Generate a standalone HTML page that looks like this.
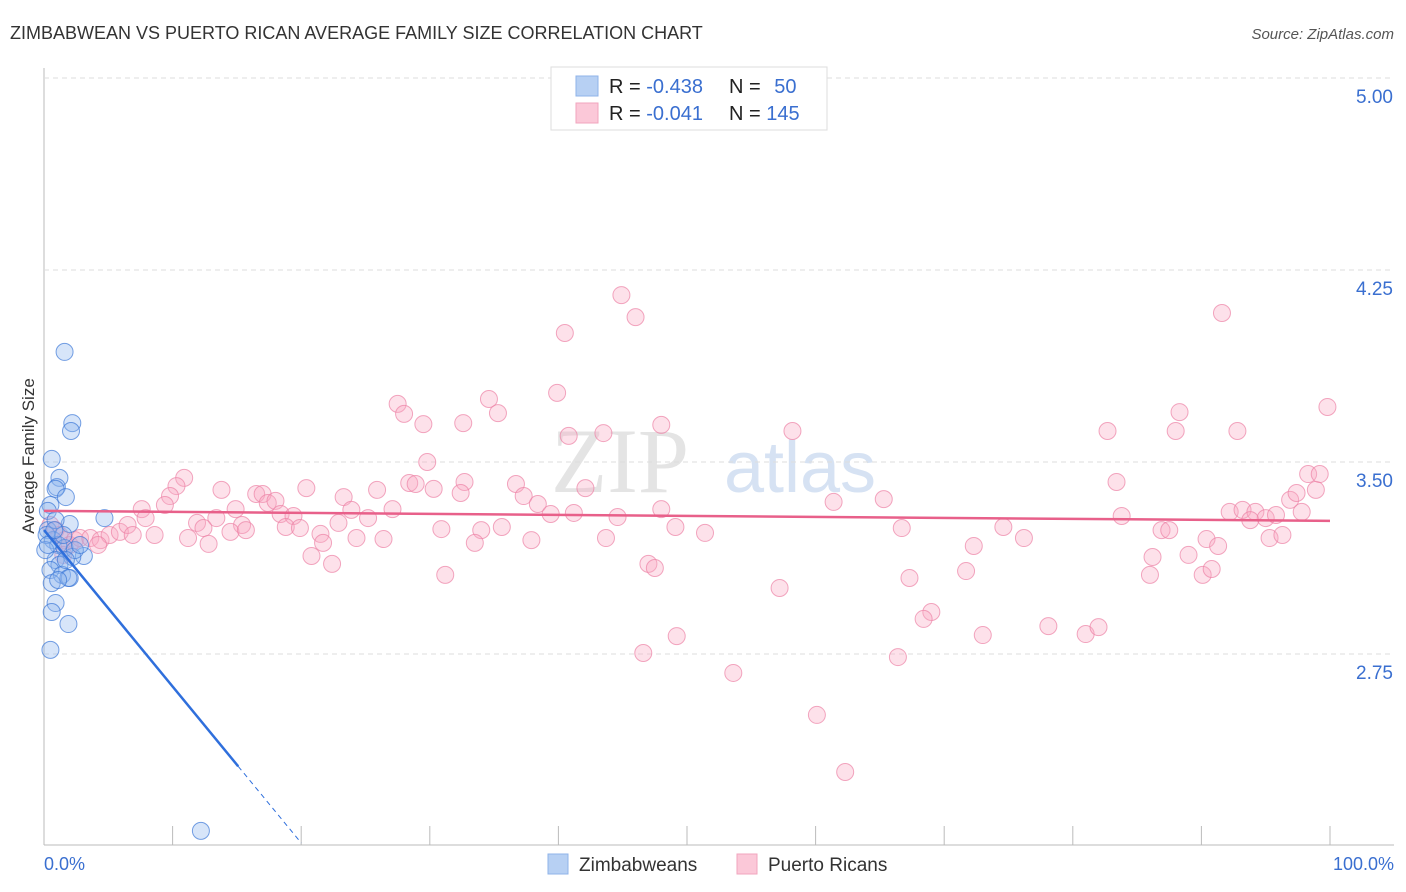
<!DOCTYPE html>
<html><head><meta charset="utf-8"><style>
body{margin:0;background:#fff;font-family:"Liberation Sans",sans-serif}
#wrap{position:relative;width:1406px;height:892px;overflow:hidden}
</style></head><body>
<div id="wrap">
<svg id="svg" width="1406" height="892" xmlns="http://www.w3.org/2000/svg">
<text x="10" y="39" font-size="18" fill="#333">ZIMBABWEAN VS PUERTO RICAN AVERAGE FAMILY SIZE CORRELATION CHART</text>
<text x="1394" y="39" font-size="15" fill="#555" font-style="italic" text-anchor="end">Source: ZipAtlas.com</text>
<text x="34" y="456" font-size="17" fill="#333" text-anchor="middle" transform="rotate(-90 34 456)">Average Family Size</text>
<text x="620" y="492" font-size="92" fill="#e4e4e4" font-family="Liberation Serif,serif" text-anchor="middle">ZIP</text>
<text x="800" y="492" font-size="72" fill="#d6e2f3" text-anchor="middle">atlas</text>
<g id="grid"></g><g id="pts"></g><g id="lines"></g>
<g>
<rect x="551" y="67" width="276" height="63" fill="#fff" stroke="#ddd"/>
<rect x="576" y="76" width="22" height="20" fill="#b7d0f3" stroke="#8fb3e8"/>
<rect x="576" y="103" width="22" height="20" fill="#fbc8d8" stroke="#f1a5be"/>
<text x="609" y="93" font-size="20" fill="#222">R = <tspan fill="#3a6fd0">-0.438</tspan></text>
<text x="729" y="93" font-size="20" fill="#222">N = <tspan fill="#3a6fd0" dx="8">50</tspan></text>
<text x="609" y="120" font-size="20" fill="#222">R = <tspan fill="#3a6fd0">-0.041</tspan></text>
<text x="729" y="120" font-size="20" fill="#222">N = <tspan fill="#3a6fd0">145</tspan></text>
</g>
<g>
<rect x="548" y="854" width="20" height="20" fill="#b7d0f3" stroke="#8fb3e8"/>
<text x="579" y="871" font-size="19" fill="#333">Zimbabweans</text>
<rect x="737" y="854" width="20" height="20" fill="#fbc8d8" stroke="#f1a5be"/>
<text x="768" y="871" font-size="19" fill="#333">Puerto Ricans</text>
</g>
<text x="44" y="870" font-size="18" fill="#3a6fd0">0.0%</text>
<text x="1394" y="870" font-size="18" fill="#3a6fd0" text-anchor="end">100.0%</text>
</svg></div>
<script>
const yTicks=[5.00,4.25,3.50,2.75];
const xTicks=[0,10,20,30,40,50,60,70,80,90,100];
const blueX=[1.6,2.2,2.1,0.6,1.2,1.0,0.9,1.7,0.5,0.3,4.7,2.0,0.3,0.7,1.1,1.6,3.1,2.2,0.9,1.2,0.5,1.4,2.0,0.6,0.9,0.6,1.9,0.5,12.2,0.2,2.4,1.5,0.9,0.1,2.8,1.9,1.1,1.7,0.3,0.8];
const blueY=[3.930,3.652,3.621,3.512,3.438,3.402,3.395,3.363,3.332,3.309,3.281,3.258,3.234,3.195,3.176,3.164,3.133,3.129,3.117,3.098,3.078,3.059,3.047,3.027,2.949,2.914,2.867,2.766,2.059,3.215,3.156,3.215,3.273,3.156,3.176,3.047,3.039,3.117,3.176,3.234];
const pinkX=[44.9,40.5,46.0,91.6,39.9,27.5,34.6,28.0,35.3,29.5,32.6,40.8,43.5,48.0,58.2,82.7,88.3,88.0,92.8,99.8,29.8,10.9,10.3,13.8,9.8,9.4,7.6,7.9,16.5,17.0,17.4,18.0,20.4,14.9,15.4,13.4,11.9,12.4,14.5,15.7,11.2,12.8,18.4,19.4,18.8,19.9,23.3,23.9,22.9,25.2,25.9,27.1,28.4,28.9,30.3,32.7,32.4,36.7,37.3,38.4,39.4,42.1,41.2,44.6,48.0,49.1,51.4,21.5,21.7,20.8,22.4,24.3,26.4,30.9,34.0,35.6,33.5,37.9,43.7,31.2,47.0,47.5,49.2,46.6,53.6,57.2,60.1,62.3,61.4,65.3,66.7,67.3,69.0,68.4,66.4,71.7,72.3,73.0,74.6,76.2,78.1,81.0,82.0,83.4,83.8,86.2,86.0,86.9,87.5,89.0,90.4,91.3,90.1,90.8,92.2,93.2,94.2,93.8,95.0,95.8,95.3,96.3,96.9,97.4,97.8,98.9,98.3,99.2,0.5,0.9,1.2,1.6,2.0,2.4,2.8,3.6,4.4,5.1,5.9,6.5,6.9,8.6,1.5,4.2];
const pinkY=[4.152,4.004,4.066,4.082,3.770,3.727,3.746,3.688,3.691,3.648,3.652,3.602,3.613,3.645,3.621,3.621,3.695,3.621,3.621,3.715,3.500,3.438,3.406,3.391,3.367,3.332,3.316,3.281,3.375,3.375,3.340,3.348,3.398,3.316,3.254,3.281,3.262,3.242,3.227,3.234,3.203,3.180,3.297,3.289,3.246,3.242,3.363,3.313,3.262,3.281,3.391,3.316,3.418,3.414,3.395,3.422,3.379,3.414,3.367,3.336,3.297,3.398,3.301,3.285,3.316,3.246,3.223,3.219,3.184,3.133,3.102,3.203,3.199,3.238,3.234,3.246,3.184,3.195,3.203,3.059,3.102,3.086,2.820,2.754,2.676,3.008,2.512,2.289,3.344,3.355,3.242,3.047,2.914,2.887,2.738,3.074,3.172,2.824,3.246,3.203,2.859,2.828,2.855,3.422,3.289,3.129,3.059,3.234,3.234,3.137,3.199,3.172,3.059,3.082,3.305,3.313,3.305,3.273,3.281,3.293,3.203,3.215,3.352,3.379,3.305,3.391,3.453,3.453,3.254,3.234,3.215,3.195,3.176,3.195,3.203,3.203,3.195,3.215,3.227,3.254,3.215,3.215,3.137,3.176];
const pinkTrend=[3.309,3.270];
const blueTrend=[3.234,-0.0611];
const sx=v=>44+v*12.86, sy=v=>462-(v-3.5)*256;
const NS="http://www.w3.org/2000/svg";
function mk(tag,parent,attrs){const e=document.createElementNS(NS,tag);for(const k in attrs)e.setAttribute(k,attrs[k]);document.getElementById(parent).appendChild(e);return e;}
mk('line','grid',{x1:44,y1:68,x2:44,y2:845,stroke:'#bbb'});
mk('line','grid',{x1:44,y1:845,x2:1394,y2:845,stroke:'#bbb'});
yTicks.forEach(t=>{
 const l=mk('line','grid',{x1:44,x2:1394,y1:sy(t),y2:sy(t),stroke:'#ddd','stroke-dasharray':'5,4'});
 
 
 const tx=mk('text','grid',{x:1393,y:sy(t)+25,'font-size':19,fill:'#3a6fd0','text-anchor':'end'});
 tx.textContent=t.toFixed(2);
 
 
});
xTicks.forEach(t=>{
 const l=mk('line','grid',{x1:sx(t),x2:sx(t),y1:826,y2:845,stroke:'#bbb'});
 
 
});
pinkX.forEach((x,i)=>{
 const c=mk('circle','pts',{cx:sx(x),cy:sy(pinkY[i]),r:8.5,fill:'rgba(248,170,196,0.35)',stroke:'rgba(236,130,165,0.7)','stroke-width':1});
 
 
});
blueX.forEach((x,i)=>{
 const c=mk('circle','pts',{cx:sx(x),cy:sy(blueY[i]),r:8.5,fill:'rgba(140,180,238,0.35)',stroke:'rgba(60,120,215,0.7)','stroke-width':1});
 
 
});
const pl=mk('line','lines',{x1:sx(0),y1:sy(pinkTrend[0]),x2:sx(100),y2:sy(pinkTrend[1]),stroke:'#e8608a','stroke-width':2.5});


const bf=x=>blueTrend[0]+blueTrend[1]*x;
const bl=mk('line','lines',{x1:sx(0),y1:sy(bf(0)),x2:sx(15.1),y2:sy(bf(15.1)),stroke:'#2f6fdc','stroke-width':2.5});


const bd=mk('line','lines',{x1:sx(15.1),y1:sy(bf(15.1)),x2:sx(20),y2:sy(bf(20)),stroke:'#2f6fdc','stroke-width':1,'stroke-dasharray':'5,4'});


</script>
</body></html>
